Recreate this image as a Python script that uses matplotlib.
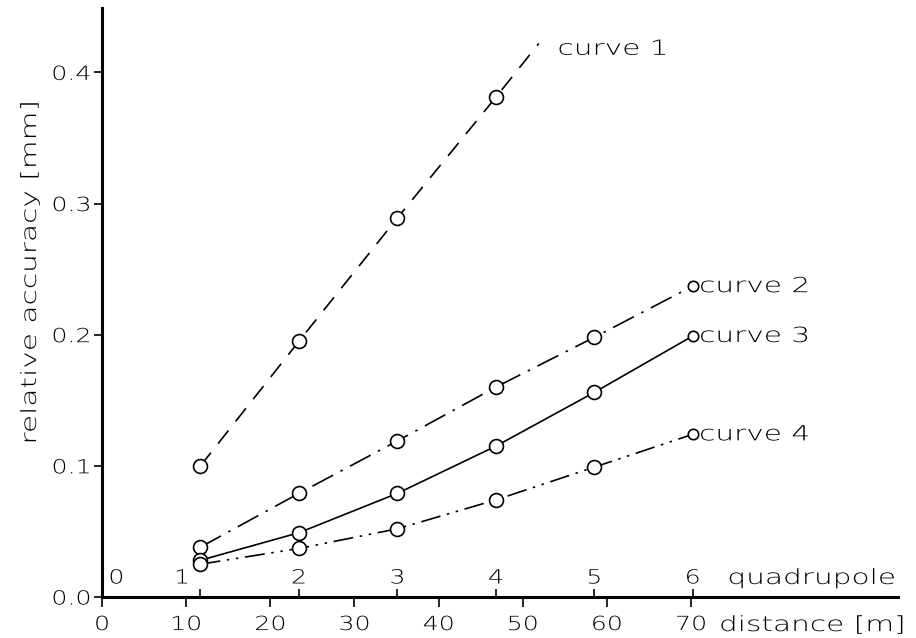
import matplotlib
matplotlib.use("Agg")
import matplotlib.pyplot as plt
from matplotlib.ticker import FixedLocator
from matplotlib.patheffects import AbstractPathEffect
from matplotlib.transforms import Affine2D

# ---- data ----
quad_labels = ["0", "1", "2", "3", "4", "5", "6"]
quad_pos = [0.0, 11.7, 23.4, 35.1, 46.8, 58.5, 70.2]
dist_ticks = [0, 10, 20, 30, 40, 50, 60, 70]
y_ticks = [0.0, 0.1, 0.2, 0.3, 0.4]

curve1_x = [11.7, 23.4, 35.1, 46.8]
curve1_y = [0.100, 0.195, 0.289, 0.381]
curve1_end_x = 51.9
curve1_end_y = 0.422

curve2_y = [0.038, 0.079, 0.119, 0.160, 0.198, 0.237]
curve3_y = [0.028, 0.049, 0.079, 0.115, 0.156, 0.199]
curve4_y = [0.025, 0.037, 0.052, 0.074, 0.099, 0.124]


class StretchX(AbstractPathEffect):
    """Widen glyphs horizontally (plotter-style lettering) about an anchor."""
    def __init__(self, sx=1.4, anchor='left'):
        super().__init__()
        self.sx = sx
        self.anchor = anchor

    def draw_path(self, renderer, gc, tpath, affine, rgbFace=None):
        ext = tpath.get_extents()
        if self.anchor == 'center':
            a = 0.5 * (ext.x0 + ext.x1)
        elif self.anchor == 'right':
            a = ext.x1
        else:
            a = ext.x0
        t = Affine2D().translate(-a, 0).scale(self.sx, 1.0).translate(a, 0) + affine
        renderer.draw_path(gc, tpath, t, rgbFace)


FS = 15
TFS = 14
SX = 1.42
plt.rcParams['font.family'] = ['DejaVu Sans']
plt.rcParams['font.weight'] = 'light'
plt.rcParams['axes.labelweight'] = 'light'

fig = plt.figure(figsize=(9.16, 6.38), dpi=100)
ax = fig.add_axes([0.1114, 0.0643, 0.869, 0.923])
ax.set_xlim(0, 94.6)
ax.set_ylim(0, 0.449)

for s in ['top', 'right']:
    ax.spines[s].set_visible(False)
for s in ['left', 'bottom']:
    ax.spines[s].set_linewidth(2.2)
    ax.spines[s].set_color('black')

ax.set_xticks(dist_ticks)
ax.set_xticklabels([str(t) for t in dist_ticks], fontsize=TFS)
ax.set_yticks(y_ticks)
ax.set_yticklabels([f"{t:.1f}" for t in y_ticks], fontsize=TFS)
ax.tick_params(axis='x', which='major', direction='out', length=7, width=1.2, pad=6)
ax.tick_params(axis='y', which='major', direction='out', length=6, width=1.2, pad=2)
ax.xaxis.set_minor_locator(FixedLocator(quad_pos[1:]))
ax.tick_params(axis='x', which='minor', direction='in', length=6, width=1.2)
for lab in ax.get_xticklabels():
    lab.set_path_effects([StretchX(1.3, 'center')])
for lab in ax.get_yticklabels():
    lab.set_path_effects([StretchX(1.3, 'right')])

qx = quad_pos[1:]
mk_only = dict(marker='o', markersize=10, markerfacecolor='white',
               markeredgecolor='black', markeredgewidth=1.2)

# curve 1 (dashed), with extension beyond last marker
ax.plot(curve1_x + [curve1_end_x], curve1_y + [curve1_end_y], color='black',
        linewidth=1.2, dashes=(10, 7), zorder=2)
ax.plot(curve1_x, curve1_y, linestyle='none', zorder=3, **mk_only)

# curve 2 dash-dot
ax.plot(qx, curve2_y, color='black', linewidth=1.2, dashes=(14, 5, 1.5, 5), zorder=2)
# curve 3 solid
ax.plot(qx, curve3_y, linestyle='-', color='black', linewidth=1.2, zorder=2)
# curve 4 dash-dot-dot
ax.plot(qx, curve4_y, color='black', linewidth=1.2, dashes=(12, 4, 1.5, 4, 1.5, 4), zorder=2)

for ys in (curve2_y, curve3_y, curve4_y):
    ax.plot(qx[:-1], ys[:-1], linestyle='none', zorder=3, **mk_only)
    ax.plot(qx[-1:], ys[-1:], linestyle='none', zorder=3,
            **(mk_only | {'markersize': 7.5}))

pe_left = [StretchX(SX, 'left')]
pe_center = [StretchX(SX, 'center')]

# curve labels
ax.text(54.2, 0.418, "curve 1", fontsize=FS, va='center', ha='left', path_effects=pe_left)
for ys, name in ((curve2_y, "curve 2"), (curve3_y, "curve 3"), (curve4_y, "curve 4")):
    ax.annotate(name, xy=(qx[-1], ys[-1]), xytext=(5, 0), textcoords='offset points',
                fontsize=FS, va='center', ha='left', path_effects=pe_left)

# quadrupole labels
qlab_y = 0.0145
ax.text(1.7, qlab_y, quad_labels[0], fontsize=TFS, ha='center', va='center',
        path_effects=[StretchX(1.3, 'center')])
ax.text(9.5, qlab_y, quad_labels[1], fontsize=TFS, ha='center', va='center',
        path_effects=[StretchX(1.3, 'center')])
for lab, x in zip(quad_labels[2:], quad_pos[2:]):
    ax.text(x, qlab_y, lab, fontsize=TFS, ha='center', va='center',
            path_effects=[StretchX(1.3, 'center')])
ax.text(74.4, qlab_y, "quadrupole", fontsize=FS, ha='left', va='center', path_effects=pe_left)

# distance label next to tick labels
ax.annotate("distance [m]", xy=(73.4, 0), xycoords=('data', 'axes fraction'),
            xytext=(0, -13), textcoords='offset points', fontsize=FS,
            ha='left', va='top', path_effects=pe_left)

ax.set_ylabel("relative accuracy [mm]", fontsize=FS, fontweight='light', path_effects=pe_center)
ax.yaxis.set_label_coords(-0.078, 0.552)

fig.savefig("out.png", dpi=100)
